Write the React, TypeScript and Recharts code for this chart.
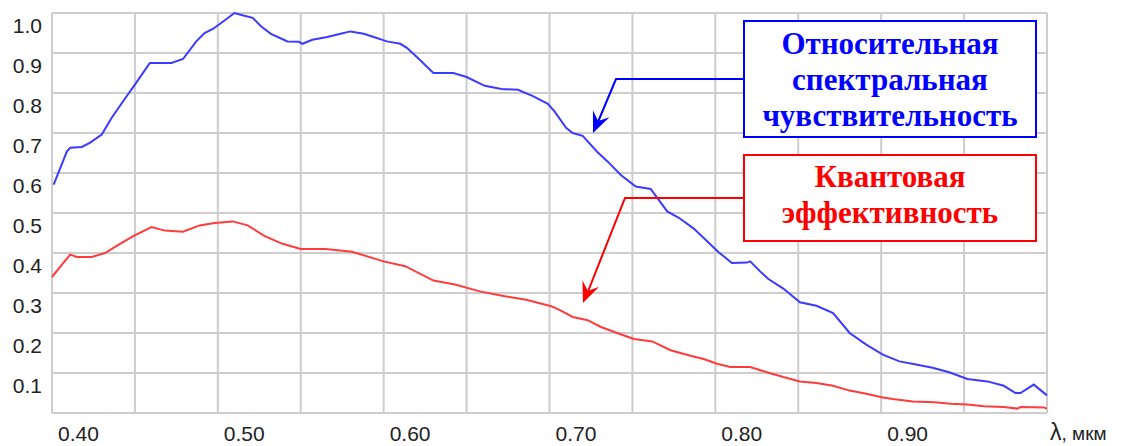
import { CartesianGrid, Line, LineChart, XAxis, YAxis } from "recharts";

// wavelength, µm
const sensWave = [
  0.401, 0.409, 0.411, 0.418, 0.423, 0.43, 0.436, 0.445, 0.45, 0.459, 0.472, 0.479, 0.487, 0.492,
  0.497, 0.502, 0.51, 0.516, 0.521, 0.526, 0.532, 0.542, 0.549, 0.551, 0.557, 0.566, 0.574, 0.58,
  0.588, 0.594, 0.602, 0.61, 0.614, 0.62, 0.63, 0.642, 0.65, 0.661, 0.671, 0.681, 0.69, 0.699,
  0.703, 0.71, 0.714, 0.72, 0.729, 0.735, 0.743, 0.752, 0.761, 0.771, 0.778, 0.787, 0.802, 0.81,
  0.819, 0.821, 0.827, 0.832, 0.841, 0.851, 0.861, 0.871, 0.881, 0.891, 0.901, 0.911, 0.921,
  0.931, 0.941, 0.952, 0.964, 0.974, 0.981, 0.984, 0.992, 1.0,
];
// relative spectral sensitivity
const sensValue = [
  0.571, 0.654, 0.663, 0.665, 0.676, 0.696, 0.738, 0.792, 0.821, 0.875, 0.875, 0.885, 0.929, 0.95,
  0.96, 0.975, 1.0, 0.993, 0.988, 0.967, 0.948, 0.929, 0.928, 0.923, 0.933, 0.94, 0.948, 0.954,
  0.948, 0.94, 0.929, 0.923, 0.913, 0.89, 0.85, 0.85, 0.84, 0.818, 0.81, 0.808, 0.792, 0.773,
  0.754, 0.713, 0.7, 0.693, 0.652, 0.629, 0.595, 0.566, 0.56, 0.504, 0.488, 0.461, 0.402, 0.375,
  0.376, 0.379, 0.354, 0.335, 0.311, 0.277, 0.268, 0.25, 0.2, 0.171, 0.146, 0.129, 0.121, 0.113,
  0.102, 0.085, 0.079, 0.068, 0.05, 0.05, 0.071, 0.044,
];

const qeWave = [
  0.4, 0.406, 0.411, 0.415, 0.424, 0.432, 0.439, 0.449, 0.46, 0.468, 0.479, 0.489, 0.498, 0.509,
  0.518, 0.528, 0.539, 0.55, 0.565, 0.581, 0.6, 0.613, 0.63, 0.643, 0.658, 0.673, 0.686, 0.701,
  0.706, 0.714, 0.723, 0.731, 0.742, 0.751, 0.762, 0.773, 0.785, 0.793, 0.801, 0.809, 0.821, 0.831,
  0.841, 0.851, 0.861, 0.871, 0.881, 0.891, 0.901, 0.907, 0.919, 0.932, 0.942, 0.952, 0.962,
  0.974, 0.982, 0.984, 0.998, 1.0,
];
// quantum efficiency
const qeValue = [
  0.34, 0.371, 0.396, 0.39, 0.39, 0.4, 0.418, 0.442, 0.465, 0.456, 0.453, 0.469, 0.475, 0.479,
  0.469, 0.443, 0.423, 0.41, 0.41, 0.403, 0.379, 0.367, 0.331, 0.321, 0.304, 0.292, 0.283, 0.267,
  0.258, 0.24, 0.232, 0.215, 0.198, 0.185, 0.179, 0.157, 0.143, 0.135, 0.123, 0.115, 0.115, 0.102,
  0.09, 0.079, 0.075, 0.068, 0.056, 0.048, 0.039, 0.035, 0.029, 0.027, 0.023, 0.021, 0.017, 0.015,
  0.011, 0.015, 0.014, 0.011,
];

const xTicks = [0.4, 0.45, 0.5, 0.55, 0.6, 0.65, 0.7, 0.75, 0.8, 0.85, 0.9, 0.95, 1.0];
const yTicks = [0, 0.1, 0.2, 0.3, 0.4, 0.5, 0.6, 0.7, 0.8, 0.9, 1.0];
const xAxisUnit = "мкм";

const sensData = sensWave.map((x, i) => ({ x, y: sensValue[i] }));
const qeData = qeWave.map((x, i) => ({ x, y: qeValue[i] }));

const BLUE = "#3b3bff";
const RED = "#ff3b3b";
const GRID = "#cdcdcd";
const AXIS_FONT = "'Liberation Sans', Arial, sans-serif";

const XTick = ({ x, y, payload }: any) => {
  const v = payload.value as number;
  if (Math.abs(v - 1) < 1e-6) {
    return (
      <text x={x + 3} y={y + 27} fill="#222" fontFamily={AXIS_FONT}>
        <tspan fontSize={23}>λ</tspan>
        <tspan fontSize={19}>, {xAxisUnit}</tspan>
      </text>
    );
  }
  if (Math.round(v * 100) % 10 !== 0) return null;
  return (
    <text x={x + 6} y={y + 28} fill="#222" fontSize={21} fontFamily={AXIS_FONT}>
      {v.toFixed(2)}
    </text>
  );
};

const YTick = ({ x, y, payload }: any) => {
  const v = payload.value as number;
  if (v < 0.05) return null;
  return (
    <text x={x - 10} y={y + 20} textAnchor="end" fill="#222" fontSize={21} fontFamily={AXIS_FONT}>
      {v.toFixed(1)}
    </text>
  );
};

const arrowHead = (fx: number, fy: number, tx: number, ty: number) => {
  const len = Math.hypot(tx - fx, ty - fy);
  const dx = (tx - fx) / len;
  const dy = (ty - fy) / len;
  const bx = tx - 21 * dx;
  const by = ty - 21 * dy;
  const nx = tx - 13 * dx;
  const ny = ty - 13 * dy;
  return `${tx},${ty} ${bx + 9 * dy},${by - 9 * dx} ${nx},${ny} ${bx - 9 * dy},${by + 9 * dx}`;
};

const Callouts = () => {
  const serif = "'Liberation Serif', 'Times New Roman', serif";
  return (
    <svg
      width={1129}
      height={446}
      style={{ position: "absolute", left: 0, top: 0, pointerEvents: "none" }}
    >
      {/* blue label */}
      <polyline points="743,79 616,79 595,129" fill="none" stroke="#0000ff" strokeWidth={2} />
      <polygon points={arrowHead(616, 79, 593, 133)} fill="#0000ff" />
      <rect x={744} y={21} width={292} height={116} fill="#fff" stroke="#0000ff" strokeWidth={2} />
      <text
        x={890}
        textAnchor="middle"
        fill="#0000ff"
        fontFamily={serif}
        fontWeight="bold"
        fontSize={31}
      >
        <tspan x={890} y={54}>Относительная</tspan>
        <tspan x={890} y={90}>спектральная</tspan>
        <tspan x={890} y={126}>чувствительность</tspan>
      </text>

      {/* red label */}
      <polyline points="743,198 625,198 585,299" fill="none" stroke="#ff0000" strokeWidth={2} />
      <polygon points={arrowHead(625, 198, 583, 303)} fill="#ff0000" />
      <rect x={744} y={155} width={292} height={86} fill="#fff" stroke="#ff0000" strokeWidth={2} />
      <text
        x={890}
        textAnchor="middle"
        fill="#ff0000"
        fontFamily={serif}
        fontWeight="bold"
        fontSize={31}
      >
        <tspan x={890} y={187}>Квантовая</tspan>
        <tspan x={890} y={223}>эффективность</tspan>
      </text>
    </svg>
  );
};

export default function App() {
  return (
    <div
      style={{
        position: "absolute",
        left: 0,
        top: 0,
        width: 1129,
        height: 446,
        background: "#fff",
      }}
    >
      <LineChart width={1129} height={446} margin={{ top: 13, right: 82, bottom: 0, left: 0 }}>
        <CartesianGrid stroke={GRID} strokeWidth={2} />
        <XAxis
          type="number"
          dataKey="x"
          domain={[0.4, 1.0]}
          ticks={xTicks}
          interval={0}
          height={33}
          axisLine={false}
          tickLine={false}
          tickSize={0}
          tickMargin={0}
          tick={<XTick />}
        />
        <YAxis
          type="number"
          domain={[0, 1]}
          ticks={yTicks}
          interval={0}
          width={52}
          axisLine={false}
          tickLine={false}
          tickSize={0}
          tickMargin={0}
          tick={<YTick />}
        />
        <Line
          data={qeData}
          dataKey="y"
          type="linear"
          stroke={RED}
          strokeWidth={2}
          dot={false}
          isAnimationActive={false}
        />
        <Line
          data={sensData}
          dataKey="y"
          type="linear"
          stroke={BLUE}
          strokeWidth={2}
          dot={false}
          isAnimationActive={false}
        />
      </LineChart>
      <Callouts />
    </div>
  );
}
